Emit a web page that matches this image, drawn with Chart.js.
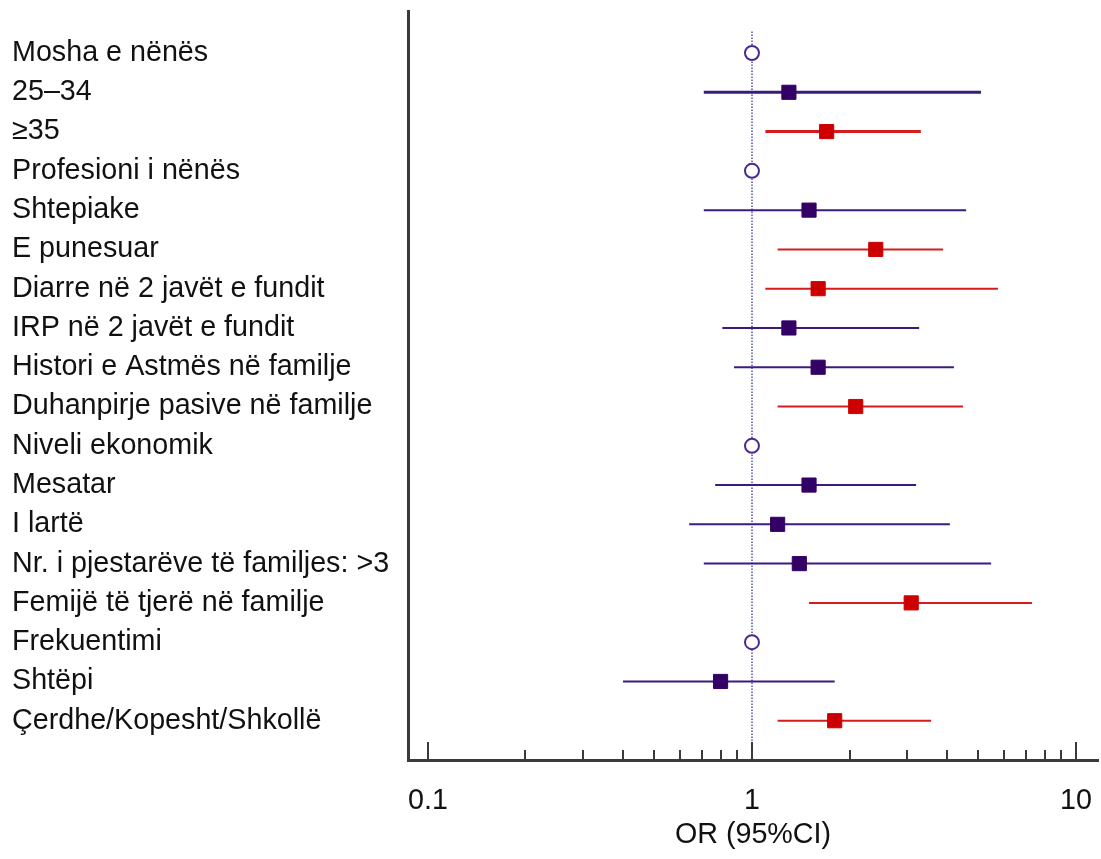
<!DOCTYPE html>
<html><head><meta charset="utf-8">
<script src="https://cdn.jsdelivr.net/npm/chart.js@4.4.1/dist/chart.umd.min.js"></script>
<style>html,body{margin:0;padding:0;background:#fff;} #wrap{width:1101px;height:859px;position:relative}</style>
</head><body><div id="wrap"><canvas id="c" width="1101" height="859"></canvas></div>
<script>
const categories = [
  "Mosha e nënës", "25–34", "≥35", "Profesioni i nënës", "Shtepiake", "E punesuar",
  "Diarre në 2 javët e fundit", "IRP në 2 javët e fundit", "Histori e Astmës në familje",
  "Duhanpirje pasive në familje", "Niveli ekonomik", "Mesatar", "I lartë",
  "Nr. i pjestarëve të familjes: >3", "Femijë të tjerë në familje", "Frekuentimi",
  "Shtëpi", "Çerdhe/Kopesht/Shkollë"
];
const referenceCategories = ["Mosha e nënës", "Profesioni i nënës", "Niveli ekonomik", "Frekuentimi"];
const referenceOR = 1;

const nsCategories = ["25–34", "Shtepiake", "IRP në 2 javët e fundit", "Histori e Astmës në familje",
  "Mesatar", "I lartë", "Nr. i pjestarëve të familjes: >3", "Shtëpi"];
const nsOR   = [1.30, 1.50, 1.30, 1.60, 1.50, 1.20, 1.40, 0.80];
const nsLow  = [0.71, 0.71, 0.81, 0.88, 0.77, 0.64, 0.71, 0.40];
const nsHigh = [5.09, 4.58, 3.28, 4.20, 3.21, 4.08, 5.47, 1.80];

const sigCategories = ["≥35", "E punesuar", "Diarre në 2 javët e fundit", "Duhanpirje pasive në familje",
  "Femijë të tjerë në familje", "Çerdhe/Kopesht/Shkollë"];
const sigOR   = [1.70, 2.41, 1.60, 2.09, 3.10, 1.80];
const sigLow  = [1.10, 1.20, 1.10, 1.20, 1.50, 1.20];
const sigHigh = [3.32, 3.89, 5.74, 4.48, 7.31, 3.57];

const majorTicks = [0.1, 1, 10];
const minorTicks = [0.2, 0.3, 0.4, 0.5, 0.6, 0.7, 0.8, 0.9, 2, 3, 4, 5, 6, 7, 8, 9];
const xTitle = "OR (95%CI)";

const FONT = {family: "'Liberation Sans', Arial, sans-serif", size: 28.7};
const AXIS_COLOR = '#3a3a3a';
const thickRows = new Set(["25–34", "≥35"]);
const rowOf = c => categories.indexOf(c) + 1;

const forestPlugin = {
  id: 'forest',
  beforeDatasetsDraw(chart) {
    const {ctx, scales: {x, y}} = chart;
    ctx.save();
    // dotted reference line
    const xr = Math.round(x.getPixelForValue(referenceOR));
    ctx.strokeStyle = '#5a5ac2';
    ctx.lineWidth = 1.6;
    ctx.setLineDash([1.5, 1.5]);
    ctx.beginPath();
    ctx.moveTo(xr, y.getPixelForValue(0.45));
    ctx.lineTo(xr, y.getPixelForValue(18.55));
    ctx.stroke();
    ctx.setLineDash([]);
    const drawCI = (cats, lo, hi, color) => {
      ctx.strokeStyle = color;
      cats.forEach((c, i) => {
        const py = y.getPixelForValue(rowOf(c));
        ctx.lineWidth = thickRows.has(c) ? 3 : 2;
        ctx.beginPath();
        ctx.moveTo(x.getPixelForValue(lo[i]), py);
        ctx.lineTo(x.getPixelForValue(hi[i]), py);
        ctx.stroke();
      });
    };
    drawCI(nsCategories, nsLow, nsHigh, '#3b1b7c');
    drawCI(sigCategories, sigLow, sigHigh, '#d41c1c');
    ctx.restore();
  },
  afterDraw(chart) {
    const {ctx, scales: {x}, chartArea} = chart;
    ctx.save();
    ctx.strokeStyle = AXIS_COLOR;
    ctx.lineWidth = 2;
    const base = chartArea.bottom;
    const tick = (v, len) => {
      const px = Math.round(x.getPixelForValue(v));
      ctx.beginPath();
      ctx.moveTo(px, base);
      ctx.lineTo(px, base - len);
      ctx.stroke();
    };
    majorTicks.forEach(v => tick(v, 18));
    minorTicks.forEach(v => tick(v, 10));
    ctx.restore();
  }
};

new Chart(document.getElementById('c'), {
  type: 'scatter',
  data: {
    datasets: [
      {
        label: 'Reference',
        data: referenceCategories.map(c => ({x: referenceOR, y: rowOf(c)})),
        pointStyle: 'circle', pointRadius: 7, pointHoverRadius: 7,
        borderColor: '#4a2a8e', borderWidth: 2, backgroundColor: '#ffffff'
      },
      {
        label: 'Jo sinjifikant',
        data: nsCategories.map((c, i) => ({x: nsOR[i], y: rowOf(c)})),
        pointStyle: 'rect', pointRadius: 10, pointHoverRadius: 10,
        borderColor: '#330066', borderWidth: 1, backgroundColor: '#330066'
      },
      {
        label: 'Sinjifikant',
        data: sigCategories.map((c, i) => ({x: sigOR[i], y: rowOf(c)})),
        pointStyle: 'rect', pointRadius: 10, pointHoverRadius: 10,
        borderColor: '#cc0000', borderWidth: 1, backgroundColor: '#cc0000'
      }
    ]
  },
  options: {
    responsive: false,
    animation: false,
    devicePixelRatio: 1,
    layout: {autoPadding: false, padding: {left: 12, top: 11, right: 3, bottom: 7}},
    plugins: {legend: {display: false}, tooltip: {enabled: false}},
    scales: {
      x: {
        type: 'logarithmic',
        position: 'bottom',
        min: 0.0868,
        max: 11.69,
        grid: {display: false},
        border: {display: true, color: AXIS_COLOR, width: 3},
        afterBuildTicks: s => { s.ticks = majorTicks.map(v => ({value: v})); },
        afterFit: s => { s.height = 92; s.paddingLeft = 0; s.paddingRight = 0; },
        ticks: {
          autoSkip: false, maxRotation: 0, padding: 16, color: '#111', font: FONT,
          callback: v => majorTicks.includes(v) ? String(v) : ''
        },
        title: {display: true, text: xTitle, color: '#111', font: FONT, padding: 0}
      },
      y: {
        type: 'linear',
        position: 'left',
        reverse: true,
        min: -0.07,
        max: 19.0,
        grid: {display: false},
        border: {display: true, color: AXIS_COLOR, width: 3},
        afterBuildTicks: s => { s.ticks = categories.map((c, i) => ({value: i + 1})); },
        afterFit: s => { s.width = 396; s.paddingTop = 0; s.paddingBottom = 0; },
        ticks: {
          crossAlign: 'far', padding: 0, color: '#111', font: FONT, autoSkip: false,
          callback: v => categories[v - 1] ?? ''
        }
      }
    }
  },
  plugins: [forestPlugin]
});
</script>
</body></html>
